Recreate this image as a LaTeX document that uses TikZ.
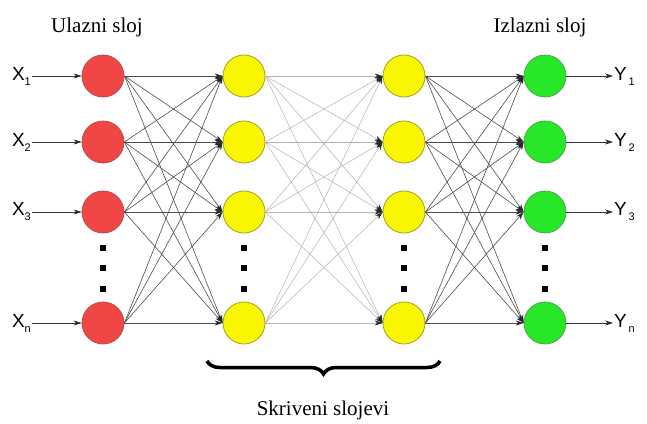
\documentclass[tikz,border=0pt]{standalone}
\usepackage{fontspec}
\setmainfont{Liberation Serif}
\setsansfont{Liberation Sans}
\usetikzlibrary{arrows.meta,decorations.pathreplacing,positioning}
\definecolor{neuronred}{HTML}{F04646}
\definecolor{neuronyellow}{HTML}{FAF500}
\definecolor{neurongreen}{HTML}{28E628}
\newcommand{\sublbl}[2]{#1\raisebox{-5pt}{\fontsize{11pt}{11pt}\selectfont #2}}

\begin{document}
\begin{tikzpicture}[x=1pt,y=-1pt,>={Stealth[length=8pt,width=5pt,color=black!85]}]
  \useasboundingbox (0,0) rectangle (647,423);
  \tikzset{
    neuron/.style={circle, minimum size=42pt, inner sep=0pt, line width=0.8pt},
    link/.style={->, line width=0.6pt, draw=black!70},
    faint/.style={->, line width=0.5pt, draw=black!30},
    iolbl/.style={font=\sffamily\fontsize{19pt}{19pt}\selectfont, inner sep=1pt}
  }
  % neurons, one column per layer
  \foreach \r/\y in {1/76,2/142,3/212,n/323}{
    \node[neuron, fill=neuronred, draw=red!60!black!70] (a\r) at (103,\y) {};
    \node[neuron, fill=neuronyellow, draw=olive!80] (b\r) at (244,\y) {};
    \node[neuron, fill=neuronyellow, draw=olive!80] (c\r) at (404,\y) {};
    \node[neuron, fill=neurongreen, draw=green!50!black!70] (d\r) at (545,\y) {};
  }
  % dots between row 3 and row n
  \foreach \x in {103,244,404,545}{
    \foreach \y in {248,268,289}{
      \fill[black] (\x-3,\y-3) rectangle (\x+3,\y+3);
    }
  }
  % connections
  \foreach \i in {1,2,3,n}{
    \foreach \j in {1,2,3,n}{
      \draw[link] (a\i.east) -- (b\j.west);
      \draw[faint] (b\i.east) -- (c\j.west);
      \draw[link] (c\i.east) -- (d\j.west);
    }
  }
  % inputs and outputs
  \foreach \r/\y in {1/76,2/142,3/212,n/323}{
    \node[iolbl, anchor=east] (x\r) at (32,\y) {\sublbl{X}{\r}};
    \node[iolbl, anchor=west] (y\r) at (613,\y) {\sublbl{Y}{\,\r}};
    \draw[->, line width=0.6pt, black!80] (x\r) -- (a\r);
    \draw[->, line width=0.6pt, black!80] (d\r) -- (y\r);
  }
  % layer titles
  \node[font=\fontsize{21pt}{21pt}\selectfont] (inlbl) at (97,27) {Ulazni sloj};
  \node[font=\fontsize{21pt}{21pt}\selectfont] (outlbl) at (540,27) {Izlazni sloj};
  \draw[decorate, decoration={brace, mirror, amplitude=13pt}, line width=3.5pt]
    (207,361) -- (440,361);
  \node[font=\fontsize{21pt}{21pt}\selectfont] (hidlbl) at (323,410) {Skriveni slojevi};
\end{tikzpicture}
\end{document}
